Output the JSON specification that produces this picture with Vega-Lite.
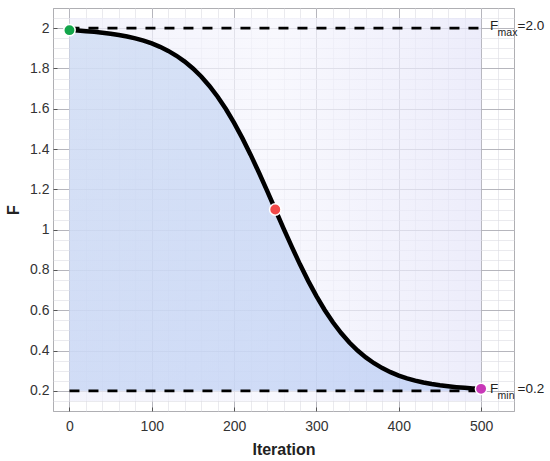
{
  "$schema": "https://vega.github.io/schema/vega-lite/v6.json",
  "width": 461,
  "height": 403,
  "autosize": {"type": "none"},
  "padding": {"left": 53, "top": 8, "right": 36, "bottom": 50},
  "config": {
    "view": {"stroke": "#6e6e6e", "strokeWidth": 1},
    "font": "Liberation Sans"
  },
  "datasets": {
    "region": [{"x0": 0, "x1": 500, "y0": 0.15, "y1": 2.05}],
    "curve": [
      {"t": 0, "F": 1.9901}, {"t": 10, "F": 1.9879}, {"t": 20, "F": 1.9851}, {"t": 30, "F": 1.9816},
      {"t": 40, "F": 1.9774}, {"t": 50, "F": 1.9723}, {"t": 60, "F": 1.9661}, {"t": 70, "F": 1.9584},
      {"t": 80, "F": 1.949}, {"t": 90, "F": 1.9377}, {"t": 100, "F": 1.9239}, {"t": 110, "F": 1.9072},
      {"t": 120, "F": 1.8871}, {"t": 130, "F": 1.8629}, {"t": 140, "F": 1.8342}, {"t": 150, "F": 1.8001},
      {"t": 160, "F": 1.76}, {"t": 170, "F": 1.7134}, {"t": 180, "F": 1.6596}, {"t": 190, "F": 1.5985},
      {"t": 200, "F": 1.53}, {"t": 210, "F": 1.4542}, {"t": 220, "F": 1.3721}, {"t": 230, "F": 1.2845},
      {"t": 240, "F": 1.1933}, {"t": 250, "F": 1.1}, {"t": 260, "F": 1.0067}, {"t": 270, "F": 0.9155},
      {"t": 280, "F": 0.8279}, {"t": 290, "F": 0.7458}, {"t": 300, "F": 0.67}, {"t": 310, "F": 0.6015},
      {"t": 320, "F": 0.5404}, {"t": 330, "F": 0.4866}, {"t": 340, "F": 0.44}, {"t": 350, "F": 0.3999},
      {"t": 360, "F": 0.3658}, {"t": 370, "F": 0.3371}, {"t": 380, "F": 0.3129}, {"t": 390, "F": 0.2928},
      {"t": 400, "F": 0.2761}, {"t": 410, "F": 0.2623}, {"t": 420, "F": 0.251}, {"t": 430, "F": 0.2416},
      {"t": 440, "F": 0.2339}, {"t": 450, "F": 0.2277}, {"t": 460, "F": 0.2226}, {"t": 470, "F": 0.2184},
      {"t": 480, "F": 0.2149}, {"t": 490, "F": 0.2121}, {"t": 500, "F": 0.2099}
    ],
    "refs": [
      {"x0": 0, "x1": 500, "y": 2.0},
      {"x0": 0, "x1": 500, "y": 0.2}
    ],
    "points": [
      {"t": 0, "F": 1.99, "name": "start"},
      {"t": 250, "F": 1.1, "name": "mid"},
      {"t": 500, "F": 0.21, "name": "end"}
    ],
    "labels": [
      {"x": 500, "y": 2.0, "base": "F", "sub": "max", "val": "=2.0"},
      {"x": 500, "y": 0.2, "base": "F", "sub": "min", "val": "=0.2"}
    ]
  },
  "layer": [
    {
      "data": {"name": "region"},
      "mark": {
        "type": "rect",
        "opacity": 0.7,
        "fill": {
          "gradient": "linear", "x1": 0, "y1": 0, "x2": 1, "y2": 0,
          "stops": [
            {"offset": 0, "color": "#eeeefb"},
            {"offset": 0.5, "color": "#f5f5fd"},
            {"offset": 1, "color": "#e5e5f9"}
          ]
        }
      },
      "encoding": {
        "x": {
          "field": "x0", "type": "quantitative",
          "scale": {"domain": [-20, 540], "nice": false, "zero": false},
          "axis": {
            "orient": "top", "values": [-20, 0, 20, 40, 60, 80, 100, 120, 140, 160, 180, 200, 220, 240, 260, 280, 300, 320, 340, 360, 380, 400, 420, 440, 460, 480, 500, 520, 540],
            "grid": true, "gridColor": "#dcdce2", "gridWidth": 0.6,
            "ticks": false, "labels": false, "domain": false, "title": null
          }
        },
        "x2": {"field": "x1"},
        "y": {
          "field": "y0", "type": "quantitative",
          "scale": {"domain": [0.1, 2.1], "nice": false, "zero": false},
          "axis": {
            "orient": "right", "values": [0.1, 0.15, 0.2, 0.25, 0.3, 0.35, 0.4, 0.45, 0.5, 0.55, 0.6, 0.65, 0.7, 0.75, 0.8, 0.85, 0.9, 0.95, 1.0, 1.05, 1.1, 1.15, 1.2, 1.25, 1.3, 1.35, 1.4, 1.45, 1.5, 1.55, 1.6, 1.65, 1.7, 1.75, 1.8, 1.85, 1.9, 1.95, 2.0, 2.05, 2.1],
            "grid": true, "gridColor": "#dcdce2", "gridWidth": 0.6,
            "ticks": false, "labels": false, "domain": false, "title": null
          }
        },
        "y2": {"field": "y1"}
      }
    },
    {
      "data": {"name": "curve"},
      "mark": {
        "type": "area",
        "fillOpacity": 0.65,
        "fill": {
          "gradient": "linear", "x1": 0, "y1": 0, "x2": 1, "y2": 1,
          "stops": [
            {"offset": 0, "color": "#c8d8f2"},
            {"offset": 1, "color": "#b4c8f3"}
          ]
        }
      },
      "encoding": {
        "x": {
          "field": "t", "type": "quantitative",
          "axis": {
            "orient": "bottom", "values": [0, 100, 200, 300, 400, 500],
            "grid": true, "gridColor": "#a8a8b0", "gridWidth": 0.8,
            "tickSize": -4, "tickColor": "#555", "domain": false,
            "labelFontSize": 14, "labelColor": "#333", "labelPadding": 12,
            "title": "Iteration", "titleFontSize": 16, "titleFontWeight": "bold",
            "titleColor": "#222", "titlePadding": 8
          }
        },
        "y": {
          "field": "F", "type": "quantitative",
          "axis": {
            "orient": "left", "values": [0.2, 0.4, 0.6, 0.8, 1.0, 1.2, 1.4, 1.6, 1.8, 2.0],
            "format": ".1~f",
            "grid": true, "gridColor": "#a8a8b0", "gridWidth": 0.8,
            "tickSize": -4, "tickColor": "#555", "domain": false,
            "labelFontSize": 14, "labelColor": "#333", "labelPadding": 8,
            "title": "F", "titleFontSize": 16, "titleFontWeight": "bold",
            "titleColor": "#222", "titlePadding": 8
          }
        },
        "y2": {"datum": 0.2}
      }
    },
    {
      "data": {"name": "curve"},
      "mark": {"type": "line", "color": "#000000", "strokeWidth": 4.5, "strokeCap": "round"},
      "encoding": {
        "x": {"field": "t", "type": "quantitative", "axis": null},
        "y": {"field": "F", "type": "quantitative", "axis": null}
      }
    },
    {
      "data": {"name": "refs"},
      "mark": {"type": "rule", "color": "#000000", "strokeWidth": 2.8, "strokeDash": [10, 9]},
      "encoding": {
        "x": {"field": "x0", "type": "quantitative", "axis": null},
        "x2": {"field": "x1"},
        "y": {"field": "y", "type": "quantitative", "axis": null}
      }
    },
    {
      "data": {"name": "points"},
      "mark": {"type": "circle", "size": 130, "opacity": 1, "stroke": "#ffffff", "strokeWidth": 1.5},
      "encoding": {
        "x": {"field": "t", "type": "quantitative", "axis": null},
        "y": {"field": "F", "type": "quantitative", "axis": null},
        "color": {
          "field": "name", "type": "nominal",
          "scale": {"domain": ["start", "mid", "end"], "range": ["#12a54a", "#f24a4a", "#c838b8"]},
          "legend": null
        }
      }
    },
    {
      "data": {"name": "labels"},
      "mark": {"type": "text", "align": "left", "baseline": "alphabetic", "dx": 9, "dy": 2, "fontSize": 13.5, "color": "#222"},
      "encoding": {
        "x": {"field": "x", "type": "quantitative", "axis": null},
        "y": {"field": "y", "type": "quantitative", "axis": null},
        "text": {"field": "base"}
      }
    },
    {
      "data": {"name": "labels"},
      "mark": {"type": "text", "align": "left", "baseline": "alphabetic", "dx": 16.5, "dy": 8, "fontSize": 10.5, "color": "#222"},
      "encoding": {
        "x": {"field": "x", "type": "quantitative", "axis": null},
        "y": {"field": "y", "type": "quantitative", "axis": null},
        "text": {"field": "sub"}
      }
    },
    {
      "data": {"name": "labels"},
      "mark": {"type": "text", "align": "left", "baseline": "alphabetic", "dx": 36.5, "dy": 2, "fontSize": 13.5, "color": "#222"},
      "encoding": {
        "x": {"field": "x", "type": "quantitative", "axis": null},
        "y": {"field": "y", "type": "quantitative", "axis": null},
        "text": {"field": "val"}
      }
    }
  ],
  "resolve": {"axis": {"x": "independent", "y": "independent"}}
}
